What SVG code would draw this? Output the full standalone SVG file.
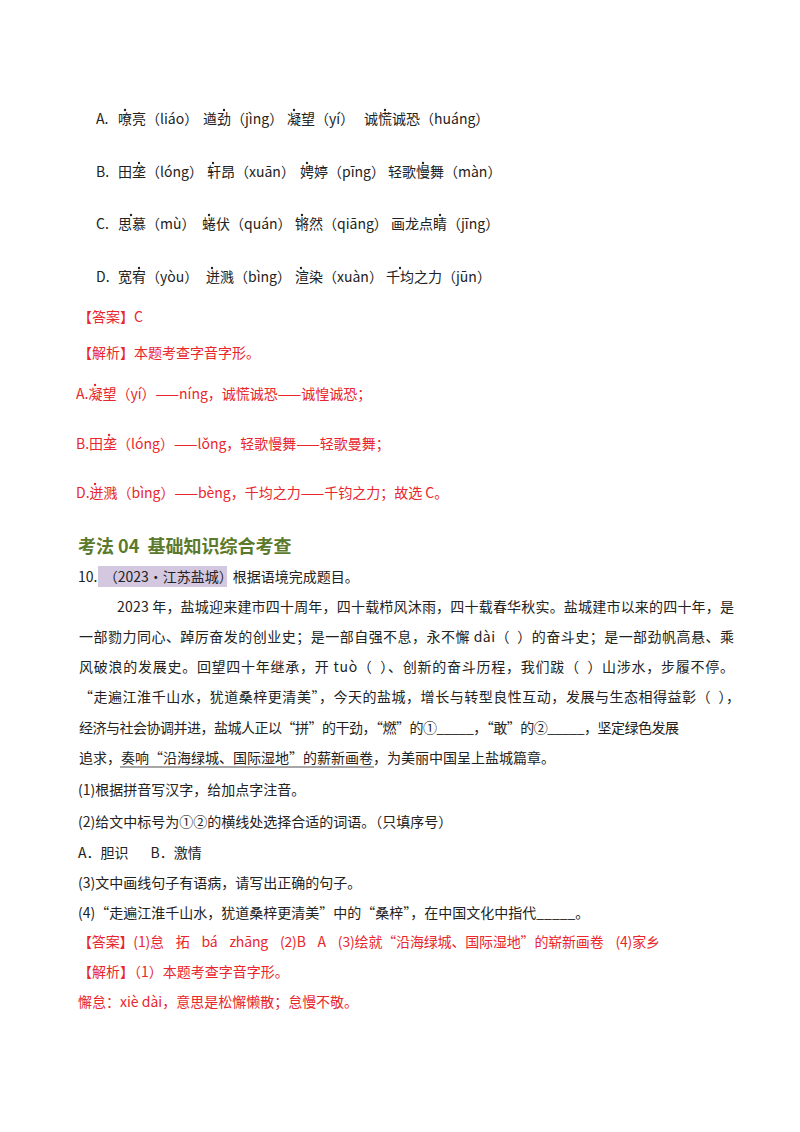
<svg xmlns="http://www.w3.org/2000/svg" width="800" height="1132" viewBox="0 0 800 1132">
<style>
text{font-family:"Noto Sans CJK SC","Noto Sans",sans-serif;font-size:14px;fill:#222;white-space:pre}
.r{fill:#e8262c}
.h{font-size:18px;font-weight:bold;fill:#5b7a2c}
.d{fill:#222}
.rd{fill:#e8262c}
</style>
<rect width="800" height="1132" fill="#fff"/>
<g id="options">
<text x="96" y="124">A.</text>
<text x="118" y="124">嘹亮（liáo）</text><text x="203" y="124">遒劲（jìng）</text><text x="287" y="124">凝望（yí）</text><text x="364" y="124">诚慌诚恐（huáng）</text>
<text x="96" y="177">B.</text>
<text x="118" y="177">田垄（lóng）</text><text x="207" y="177">轩昂（xuān）</text><text x="300" y="177">娉婷（pīng）</text><text x="388" y="177">轻歌慢舞（màn）</text>
<text x="96" y="229">C.</text>
<text x="118" y="229">思慕（mù）</text><text x="202" y="229">蜷伏（quán）</text><text x="295" y="229">锵然（qiāng）</text><text x="391" y="229">画龙点睛（jīng）</text>
<text x="96" y="282">D.</text>
<text x="118" y="282">宽宥（yòu）</text><text x="206" y="282">迸溅（bìng）</text><text x="295" y="282">渲染（xuàn）</text><text x="386" y="282">千均之力（jūn）</text>
<g class="d">
<circle cx="125" cy="110" r="1.2"/><circle cx="224" cy="110" r="1.2"/><circle cx="294" cy="110" r="1.2"/><circle cx="385" cy="110" r="1.2"/>
<circle cx="139" cy="163" r="1.2"/><circle cx="213" cy="163" r="1.2"/><circle cx="307" cy="163" r="1.2"/><circle cx="423" cy="163" r="1.2"/>
<circle cx="131" cy="215" r="1.2"/><circle cx="209" cy="215" r="1.2"/><circle cx="302" cy="215" r="1.2"/><circle cx="440" cy="215" r="1.2"/>
<circle cx="139" cy="268" r="1.2"/><circle cx="212" cy="268" r="1.2"/><circle cx="301" cy="268" r="1.2"/><circle cx="400" cy="268" r="1.2"/>
</g>
</g>
<g id="answer1">
<text class="r" x="78" y="322">【答案】C</text>
<text class="r" x="78" y="358">【解析】本题考查字音字形。</text>
<text class="r" x="76" y="399">A.凝望（yí）——níng，诚慌诚恐——诚惶诚恐；</text>
<text class="r" x="76" y="449">B.田垄（lóng）——lǒng，轻歌慢舞——轻歌曼舞；</text>
<text class="r" x="76" y="498">D.迸溅（bìng）——bèng，千均之力——千钧之力；故选 C。</text>
<circle class="rd" cx="95" cy="385" r="1.2"/><circle class="rd" cx="109" cy="435" r="1.2"/><circle class="rd" cx="95" cy="484" r="1.2"/>
</g>
<g id="section">
<text class="h" x="78" y="553">考法 04  基础知识综合考查</text>
<rect x="98" y="566" width="129" height="21" fill="#d4c8e0"/>
<text x="78" y="582">10.  （2023·江苏盐城）根据语境完成题目。</text>
<text x="117" y="612" textLength="617">2023 年，盐城迎来建市四十周年，四十载栉风沐雨，四十载春华秋实。盐城建市以来的四十年，是</text>
<text x="79" y="642" textLength="655">一部勠力同心、踔厉奋发的创业史；是一部自强不息，永不懈 dài（  ）的奋斗史；是一部劲帆高悬、乘</text>
<text x="79" y="672" textLength="655">风破浪的发展史。回望四十年继承，开 tuò（  ）、创新的奋斗历程，我们跋（  ）山涉水，步履不停。</text>
<text x="79" y="702" textLength="661">“走遍江淮千山水，犹道桑梓更清美”，今天的盐城，增长与转型良性互动，发展与生态相得益彰（  ），</text>
<text x="79" y="733" textLength="600">经济与社会协调并进，盐城人正以“拼”的干劲，“燃”的①_____，“敢”的②_____，坚定绿色发展</text>
<text x="79" y="763">追求，奏响“沿海绿城、国际湿地”的薪新画卷，为美丽中国呈上盐城篇章。</text>
<line x1="120" y1="767" x2="374" y2="767" stroke="#222" stroke-width="0.8"/>
<text x="78" y="795">(1)根据拼音写汉字，给加点字注音。</text>
<text x="78" y="827">(2)给文中标号为①②的横线处选择合适的词语。（只填序号）</text>
<text x="78" y="858">A．胆识       B．激情</text>
<text x="78" y="888">(3)文中画线句子有语病，请写出正确的句子。</text>
<text x="78" y="918">(4)“走遍江淮千山水，犹道桑梓更清美”中的“桑梓”，在中国文化中指代_____。</text>
<text class="r" x="78" y="947" textLength="582">【答案】(1)怠    拓    bá    zhāng    (2)B    A    (3)绘就“沿海绿城、国际湿地”的崭新画卷    (4)家乡</text>
<text class="r" x="78" y="977">【解析】（1）本题考查字音字形。</text>
<text class="r" x="78" y="1007">懈怠：xiè dài，意思是松懈懒散；怠慢不敬。</text>
</g>
</svg>
